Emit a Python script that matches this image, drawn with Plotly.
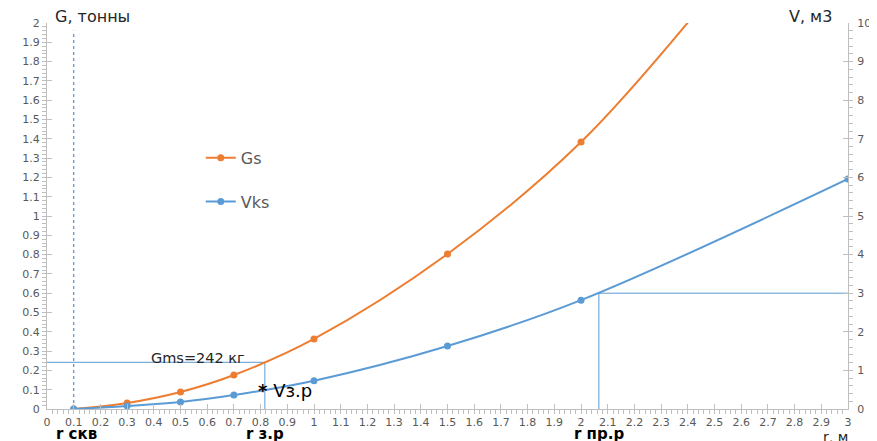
import plotly.graph_objects as go

# Data
r_pts = [0.1, 0.3, 0.5, 0.7, 1.0, 1.5, 2.0, 2.5]
gs_vals = [0.0, 0.031, 0.088, 0.176, 0.363, 0.803, 1.383, 2.17]
r_v = [0.1, 0.3, 0.5, 0.7, 1.0, 1.5, 2.0, 3.0]
vks_vals = [0.0, 0.08, 0.18, 0.36, 0.73, 1.63, 2.82, 5.96]

r_skv = 0.1
r_zr = 0.816
G_ms = 0.242
r_prr = 2.067
V_prr = 3.0

ORANGE = "#ED7D31"
BLUE = "#5B9BD5"
GRAY = "#595959"
AXIS = "#BFBFBF"
FONT = "DejaVu Sans"

fig = go.Figure()

# reference lines
fig.add_trace(go.Scatter(x=[r_skv, r_skv], y=[0, 1.96], mode="lines",
                         line=dict(color=BLUE, width=1.3, dash="dot"),
                         showlegend=False, hoverinfo="skip"))
fig.add_trace(go.Scatter(x=[0, r_zr, r_zr], y=[G_ms, G_ms, 0], mode="lines",
                         line=dict(color=BLUE, width=1),
                         showlegend=False, hoverinfo="skip"))
fig.add_trace(go.Scatter(x=[3, r_prr, r_prr], y=[V_prr, V_prr, 0], mode="lines",
                         line=dict(color=BLUE, width=1), yaxis="y2",
                         showlegend=False, hoverinfo="skip"))

fig.add_trace(go.Scatter(x=r_pts, y=gs_vals, name="Gs", mode="lines+markers",
                         line=dict(color=ORANGE, width=2, shape="spline"),
                         marker=dict(color=ORANGE, size=7), legendgroup="a"))
fig.add_trace(go.Scatter(x=r_v, y=vks_vals, name="Vks", mode="lines+markers",
                         line=dict(color=BLUE, width=2, shape="spline"),
                         marker=dict(color=BLUE, size=7), yaxis="y2", legendgroup="b"))

annos = [
    dict(x=0.565, y=0.264, xref="x", yref="y", text="Gms=242 кг", showarrow=False,
         font=dict(size=14.5, color="#262626")),
    dict(x=r_zr - 0.035, y=0.098, xref="x", yref="y", xanchor="left",
         text="<b>*</b> Vз.р", showarrow=False, font=dict(size=18, color="#000")),
    dict(x=0.11, y=-0.092, xref="x", yref="paper", yanchor="bottom", text="<b>r скв</b>",
         showarrow=False, font=dict(size=15, color="#000")),
    dict(x=r_zr, y=-0.092, xref="x", yref="paper", yanchor="bottom", text="<b>r з.р</b>",
         showarrow=False, font=dict(size=15, color="#000")),
    dict(x=r_prr, y=-0.092, xref="x", yref="paper", yanchor="bottom", text="<b>r пр.р</b>",
         showarrow=False, font=dict(size=15, color="#000")),
    dict(x=2.955, y=-0.098, xref="x", yref="paper", yanchor="bottom", text="r, м",
         showarrow=False, font=dict(size=14, color="#262626")),
    dict(x=0.008, y=1.016, xref="paper", yref="paper", xanchor="left", yanchor="middle",
         text="G, тонны", showarrow=False, font=dict(size=16, color="#262626")),
    dict(x=0.983, y=1.016, xref="paper", yref="paper", xanchor="right", yanchor="middle",
         text="V, м3", showarrow=False, font=dict(size=16, color="#262626")),
]

common = dict(showgrid=False, zeroline=False, showline=True, linecolor=AXIS, linewidth=1,
              ticks="inside", ticklen=5, tickcolor=AXIS, automargin=False,
              tickfont=dict(size=11, color=GRAY))

# page body adds an 8px offset; size the figure to fit the window exactly
fig.update_layout(
    width=869, height=433,
    margin=dict(l=39, r=29, t=15, b=32),
    paper_bgcolor="white", plot_bgcolor="white",
    font=dict(family=FONT, color=GRAY, size=11),
    annotations=annos,
    legend=dict(x=0.192, y=0.695, xanchor="left", yanchor="top",
                font=dict(size=16, color=GRAY), tracegroupgap=20,
                bgcolor="rgba(0,0,0,0)", traceorder="grouped"),
    xaxis=dict(range=[0, 3], dtick=0.1, ticklabelstandoff=3,
               minor=dict(dtick=0.02, ticks="outside", ticklen=4, tickcolor=AXIS), **common),
    yaxis=dict(range=[0, 2], dtick=0.1, ticklabelstandoff=4,
               minor=dict(dtick=0.02, ticks="outside", ticklen=4, tickcolor=AXIS), **common),
    yaxis2=dict(range=[0, 10], dtick=1, overlaying="y", side="right", ticklabelstandoff=6,
                minor=dict(dtick=0.2, ticks="outside", ticklen=4, tickcolor=AXIS), **common),
)

fig.write_html("out.html")
